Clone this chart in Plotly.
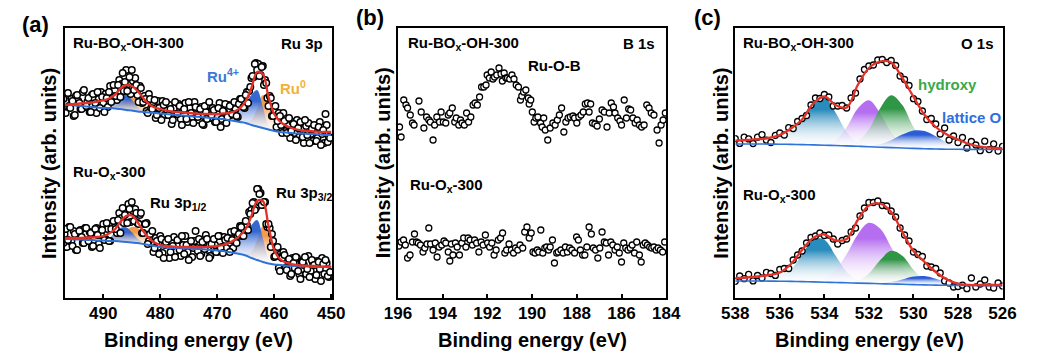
import numpy as np
import plotly.graph_objects as go

W, H = 1037, 354
FONT = "Liberation Sans, Arial, sans-serif"

# ---------------- panel (a): Ru 3p ----------------
E_a_fit = np.arange(497, 449, -1)                       # 497 ... 450 eV
E_a_pts = np.round(np.arange(497.0, 450.0, -0.4), 1)    # 497.0 ... 450.2 eV
E_a_pts2 = np.round(np.arange(496.8, 450.2, -0.4), 1)   # 496.8 ... 450.4 eV (interleaved)

a1_pts = [199,185,205,190,197,183,203,195,189,208,
          192,200,186,204,195,206,190,201,186,200,
          206,196,213,202,213,201,225,216,207,221,
          228,208,213,196,210,196,199,185,199,189,
          198,183,190,178,193,196,183,189,178,196,
          184,192,173,189,179,196,185,175,191,181,
          189,174,192,179,196,183,188,176,190,171,
          187,194,181,192,184,196,182,194,199,191,
          203,195,211,222,234,228,222,231,213,215,
          192,200,182,192,177,182,165,177,165,180,
          167,174,158,170,176,161,178,163,155,169,
          173,157,171,153,168,184,156,160]
a1_pts2 = [186,203,192,199,182,202,197,189,206,191,
           196,186,203,200,185,199,206,195,204,191,
           212,200,208,198,218,214,207,228,214,204,
           217,220,203,212,195,202,187,204,190,196,
           180,197,186,197,183,188,193,174,190,184,
           194,179,188,195,176,190,181,196,183,178,
           191,173,186,193,180,190,176,187,195,179,
           186,175,193,183,192,189,181,199,196,190,
           206,207,220,221,235,234,223,232,218,200,
           202,182,188,171,185,173,185,167,173,160,
           176,165,178,161,169,155,172,175,164,157,
           170,160,176,164,155,173,161]
a1_base = [193,193,192.5,192,191.5,191,190.5,190,190,189.5,189,188,187.5,186.5,186,185.5,
           185,184.5,184,183.5,183,182.5,182,181.5,181,180.5,180,179.5,179,178,177,176,
           175,173,171.5,170,168.5,167,166,165.5,165,164.5,164.5,164,164,163.5,163,163]
a1_fit = [193,193.5,194,194.5,195,195.5,196.5,197.5,199.5,203,209.5,213,212,207,200,194,
          190.5,189,187.5,186.5,186,185.5,185,184.5,184,184,184,184,184.5,185,186.5,190,
          197,210,226,224,201,184,176.5,172.5,170,168.5,167.5,167,166.5,166,166,166]
a1_ru4 = [0,0,0,0,0,0,0,0.9,3.7,9.3,15.2,15.9,10.7,4.6,1.3,0.2,
          0,0,0,0,0,0,0,0,0,1,2,3.5,4.5,6,9,13,
          20,30,36.5,21,4,0.5,0,0,0,0,0,0,0,0,0,0]
a1_ru0 = [0,0,0,0,0,0,0,0,0.7,2.2,5.3,9.6,12.7,12.3,8.8,4.6,
          1.8,0.5,0.1,0,0,0,0,0,0,0,0,0,0,0,0,0,
          1,5,18,33,28,16,10,6.5,4.5,3,2,1.5,1,0.5,0.3,0]

a2_pts = [55,69,58,71,52,64,48,67,61,55,
          70,57,65,52,69,63,50,68,58,75,
          57,69,77,69,78,65,90,83,75,89,
          96,77,85,74,85,65,74,54,64,67,
          50,57,44,59,40,56,59,46,52,41,
          58,48,62,44,53,38,57,50,67,47,
          42,56,49,59,40,54,59,46,62,50,
          45,58,60,46,58,67,55,64,71,62,
          77,68,84,95,88,109,104,93,96,74,
          74,51,57,42,51,27,40,43,28,39,
          24,35,41,27,19,36,41,29,21,38,
          33,23,36,17,34,38,22,26]
a2_pts2 = [64,51,71,57,67,48,62,68,55,70,
           58,66,51,64,70,54,63,74,59,69,
           57,74,71,65,85,80,75,89,94,76,
           87,89,75,83,65,74,75,57,62,46,
           60,51,62,45,53,58,40,55,61,47,
           58,42,53,62,46,54,41,57,50,59,
           44,55,63,48,42,57,53,46,62,51,
           61,50,58,66,50,65,62,72,62,73,
           73,86,88,96,90,109,105,93,96,71,
           70,64,41,49,30,41,46,30,37,22,
           40,30,40,24,36,33,24,42,27,35,
           19,37,29,40,24,35,21]
a2_base = [59,59,58.5,58.5,58,58,57.5,57.5,57,57,56.5,56,55.5,55,54,53,
           52,51,50.5,50,50,49.5,49.5,49,49,48.5,48,47.5,47,46,45,44,
           42.5,40,38,36,34.5,33.5,33,32.5,32,32,31.5,31.5,31,31,31,31]
a2_fit = [60,60,60,60,60.5,60.5,61,62,64.5,68.5,76,82,82.5,76,67,60,
          55.5,53,52,51.5,51,51,51,51,51,51,51.5,52,53,55,58,62.5,
          69,82,97,97,72,48,39,35.5,34,33,32.5,32,32,31.5,31.5,31.5]
a2_ru4 = [0,0,0,0,0,0,0,0.7,3.0,7.9,13.5,14.7,10.3,4.6,1.3,0.2,
          0,0,0,0,0,0,0,0,0,1,2,3,4.5,6.5,10,15,
          22,33,40,24,5,0.5,0,0,0,0,0,0,0,0,0,0]
a2_ru0 = [0,0,0,0,0,0,0,0,0.8,2.7,6.6,11.8,15.6,15.1,10.8,5.6,
          2.2,0.6,0.1,0,0,0,0,0,0,0,0,0,0,0,0,0,
          1.5,6,20,36,30,14,6,3,2,1.2,0.8,0.5,0.3,0,0,0]

# ---------------- panel (b): B 1s ----------------
E_b1 = [195.93,195.86,195.74,195.64,195.57,195.45,195.35,195.28,195.06,194.96,
        194.84,194.72,194.62,194.55,194.43,194.36,194.26,194.14,194.07,193.97,
        193.86,193.75,193.68,193.57,193.46,193.39,193.28,193.20,193.13,193.03,
        192.93,192.84,192.74,192.64,192.55,192.45,192.35,192.26,192.16,192.06,
        192.01,191.91,191.83,191.75,191.68,191.58,191.48,191.39,191.33,191.25,
        191.17,191.10,191.00,190.90,190.81,190.71,190.61,190.52,190.46,190.38,
        190.28,190.17,190.13,190.06,189.99,189.91,189.83,189.74,189.62,189.55,
        189.48,189.41,189.30,189.19,189.07,188.97,188.87,188.78,188.68,188.58,
        188.49,188.39,188.29,188.17,188.10,188.00,187.91,187.81,187.71,187.62,
        187.52,187.45,187.38,187.30,187.19,187.09,186.99,186.87,186.77,186.65,
        186.55,186.46,186.36,186.29,186.17,186.07,186.00,185.88,185.78,185.68,
        185.59,185.49,185.39,185.30,185.20,185.10,184.99,184.87,184.77,184.67,
        184.55,184.41,184.32,184.23,184.14,184.04]
b1_pts = [171,161,198,193,190,183,175,173,197,186,
          170,181,178,176,158,173,181,176,186,176,
          175,183,185,190,176,180,173,178,175,173,
          185,176,181,193,195,193,201,211,211,213,
          223,220,226,219,221,223,230,224,217,225,
          220,220,219,223,219,213,211,198,202,206,
          208,200,194,198,186,176,180,181,175,171,
          180,168,158,170,175,173,178,183,190,166,
          176,180,181,182,180,175,181,183,186,194,
          195,186,194,175,174,172,179,188,186,171,
          185,195,191,185,180,177,173,198,180,189,
          188,180,175,178,173,171,173,193,190,185,
          183,168,155,173,178,185]
E_b2 = [195.96,195.86,195.75,195.67,195.57,195.46,195.35,195.26,195.17,195.09,
        194.99,194.88,194.80,194.70,194.62,194.54,194.43,194.33,194.25,194.16,
        194.04,193.94,193.86,193.75,193.68,193.61,193.54,193.43,193.35,193.25,
        193.14,193.06,192.96,192.86,192.77,192.67,192.57,192.48,192.38,192.28,
        192.19,192.09,191.99,191.90,191.80,191.70,191.61,191.51,191.41,191.32,
        191.22,191.14,191.03,190.93,190.83,190.74,190.64,190.54,190.42,190.33,
        190.23,190.13,190.04,189.96,189.87,189.77,189.70,189.61,189.52,189.43,
        189.35,189.26,189.19,189.09,189.00,188.90,188.83,188.71,188.61,188.51,
        188.42,188.32,188.22,188.10,188.01,187.93,187.84,187.74,187.64,187.55,
        187.45,187.35,187.26,187.16,187.06,186.97,186.87,186.77,186.68,186.58,
        186.48,186.39,186.29,186.19,186.10,186.00,185.90,185.81,185.71,185.61,
        185.52,185.42,185.32,185.20,185.12,185.03,184.94,184.84,184.74,184.65,
        184.55,184.45,184.36,184.26,184.16,184.07]
b2_pts = [52,56,58,53,40,43,56,64,56,55,
          53,46,50,54,70,54,48,55,41,51,
          53,57,55,46,37,54,43,55,51,43,
          55,60,51,60,58,53,58,55,46,56,
          53,63,55,51,55,43,48,58,60,65,
          45,48,54,48,45,50,48,53,50,66,
          71,60,65,46,45,48,46,68,45,50,
          51,48,51,58,35,45,46,48,45,51,
          46,50,48,45,61,58,48,43,43,51,
          71,64,50,48,40,50,66,56,55,43,
          56,53,48,51,45,36,55,50,48,50,
          53,45,56,43,36,53,55,53,51,50,
          51,48,50,48,46,56]

# ---------------- panel (c): O 1s ----------------
E_c_fit = np.arange(538, 525.75, -0.5)                 # 538 ... 526 eV
E_c_pts = np.round(np.arange(538.0, 525.9, -0.2), 1)   # 538.0 ... 526.0 eV

c1_pts = [159.3,154.6,160.9,159.1,154.5,160.8,163.3,157.8,155.5,162.7,
          165,163,170.3,169.5,176.5,179.5,182.5,193,200,199.5,
          203.5,201,192,192,192.5,190,200,205,219,228.5,
          232,233,238,238.5,235.5,237.5,232.5,222,218.5,212.5,
          199.3,196.5,187,178.5,179.5,174,164,170,158,162,
          155.5,160.5,150,156.5,153,147.3,156.8,148.4,154.1,146.9,151.7]
c1_base = [154,154,154,153.9,153.8,153.6,153.4,153.1,152.8,152.5,152.1,151.7,151.3,
           150.8,150.4,150,149.6,149.3,149,148.8,148.7,148.6,148.5,148.5,148.5]
c1_fit = [157.3,158,158.8,160,163,169.5,178.5,194.5,201.5,193,190.5,213,230,
          236.5,235.5,220,201.3,183,171,163.5,158.5,154,151.3,150.3,149.7]
c1_teal = [2,2.5,3,4.5,8,13,25,44.3,48.4,33,14,3.6,0.6,0.1,0,0,0,0,0,0,0,0,0,0,0]
c1_purple = [0,0,0,0,0,0,0.1,0.4,1.5,5.4,18.5,37.8,46.4,34.1,15.1,4,0.6,0.1,0,0,0,0,0,0,0]
c1_hydroxy = [0,0,0,0,0,0,0,0,0,0.1,0.8,4.8,17.4,38.8,52.4,42.9,21.3,6.4,1.2,0.1,0,0,0,0,0]
c1_lattice = [0,0,0,0,0,0,0,0,0,0,0,0.2,0.9,3,7.4,13.4,18,17.6,12.7,6.7,2.6,0.7,0.1,0,0]

c2_pts = [16.7,22,19.3,23.7,17.1,22.5,20,25.6,24.5,22.6,
          28.5,29.5,29.5,38,43,47,55,60.5,62,65,
          62.5,63,59,54,57.5,59,66,70,82,90,
          95.5,95.5,97,92.5,92,87,81,70,63,57,
          46,43.5,41.5,32,31,29.5,25,17,15,11,
          11.5,12.8,9.3,20,11,14,18,11,10,15,12]
c2_base = [17,17,17,16.9,16.8,16.6,16.4,16.1,15.8,15.5,15.2,14.9,14.6,
           14.3,14,13.7,13.4,13.1,12.9,12.7,12.6,12.5,12.4,12.3,12.3]
c2_fit = [19.7,20.5,21.5,23,25.5,34,48,60,63.5,57.5,59,78,92.5,
          94.5,86,66,47,36,26,18.5,14.5,13,13,13,13]
c2_teal = [1.5,2,2.5,4,6.5,12,27,42.5,42.5,27,10.9,2.8,0.4,0,0,0,0,0,0,0,0,0,0,0,0]
c2_purple = [0,0,0,0,0,0,0.2,0.9,3.9,12.3,28.6,48.7,60.6,55.2,36.8,17.9,6.4,1.7,0.3,0,0,0,0,0,0]
c2_hydroxy = [0,0,0,0,0,0,0,0,0,0,0.4,2.6,10,23.4,33.2,28.5,14.9,4.7,0.9,0.1,0,0,0,0,0]
c2_lattice = [0,0,0,0,0,0,0,0,0,0,0,0,0,0.5,2,4.9,8.1,8.8,6.3,3,0.9,0.2,0,0,0]

# ---------------- styles ----------------
RED = "#e53228"
BASE_BLUE = "#2f72d8"
RU4 = "#3768d0"
RU0 = "#f39c4a"
TEAL = "#2a8cbd"
PURPLE = "#b56ef0"
GREEN = "#2f9646"
LATT = "#2b5ed6"

fig = go.Figure()


def add_comp(xa, ya, E, base, comp, color, sl=slice(None)):
    e = np.asarray(E, dtype=float)[sl]
    b = np.asarray(base, dtype=float)[sl]
    c = b + np.asarray(comp, dtype=float)[sl]
    fig.add_trace(go.Scatter(x=e, y=b, mode="lines", line=dict(width=0, shape="spline"),
                             hoverinfo="skip", showlegend=False, xaxis=xa, yaxis=ya))
    fig.add_trace(go.Scatter(x=e, y=c, mode="lines", line=dict(width=0, shape="spline"),
                             fill="tonexty",
                             fillgradient=dict(type="vertical",
                                               colorscale=[[0, "rgba(255,255,255,0)"],
                                                           [0.75, color], [1, color]]),
                             hoverinfo="skip", showlegend=False, xaxis=xa, yaxis=ya))


def add_pts(xa, ya, E, y, size=6, lw=1.3):
    fig.add_trace(go.Scatter(x=E, y=y, mode="markers",
                             marker=dict(symbol="circle", size=size, color="white",
                                         line=dict(color="black", width=lw)),
                             showlegend=False, xaxis=xa, yaxis=ya))


def add_line(xa, ya, E, y, color, w):
    fig.add_trace(go.Scatter(x=E, y=y, mode="lines", line=dict(color=color, width=w, shape="spline"),
                             showlegend=False, xaxis=xa, yaxis=ya))


LEFT, RIGHT = slice(0, 26), slice(24, 48)
for base, ru4, ru0, pts, pts2, fit in [(a1_base, a1_ru4, a1_ru0, a1_pts, a1_pts2, a1_fit),
                                        (a2_base, a2_ru4, a2_ru0, a2_pts, a2_pts2, a2_fit)]:
    for sl in (LEFT, RIGHT):
        add_comp("x", "y", E_a_fit, base, ru0, RU0, sl)
        add_comp("x", "y", E_a_fit, base, ru4, RU4, sl)
    add_pts("x", "y", E_a_pts2, pts2, 6.5, 1.5)
    add_pts("x", "y", E_a_pts, pts, 6.5, 1.5)
    add_line("x", "y", E_a_fit, base, BASE_BLUE, 2)
    add_line("x", "y", E_a_fit, fit, RED, 2.3)

add_pts("x2", "y2", E_b1, b1_pts)
add_pts("x2", "y2", E_b2, b2_pts)

for base, te, pu, gr, la, pts, fit in [
        (c1_base, c1_teal, c1_purple, c1_hydroxy, c1_lattice, c1_pts, c1_fit),
        (c2_base, c2_teal, c2_purple, c2_hydroxy, c2_lattice, c2_pts, c2_fit)]:
    add_comp("x3", "y3", E_c_fit, base, te, TEAL)
    add_comp("x3", "y3", E_c_fit, base, pu, PURPLE)
    add_comp("x3", "y3", E_c_fit, base, gr, GREEN)
    add_comp("x3", "y3", E_c_fit, base, la, LATT)
    add_pts("x3", "y3", E_c_pts, pts)
    add_line("x3", "y3", E_c_fit, base, BASE_BLUE, 1.6)
    add_line("x3", "y3", E_c_fit, fit, RED, 2.3)

# ---------------- axes ----------------
ydom = [1 - 298 / H, 1 - 28 / H]
tickfont = dict(family=FONT, size=17, color="black", weight="bold")


def xax(dom, rng, tv, anchor):
    return dict(domain=dom, range=rng, anchor=anchor, tickvals=tv, ticks="inside", ticklen=4,
                tickwidth=1.5, tickcolor="black", showline=True, linewidth=2, linecolor="black",
                mirror=True, showgrid=False, zeroline=False, tickfont=tickfont,
                ticklabelstandoff=-1)


def yax(anchor):
    return dict(domain=ydom, range=[0, 270], anchor=anchor, showticklabels=False, ticks="",
                showline=True, linewidth=2, linecolor="black", mirror=True,
                showgrid=False, zeroline=False)


fig.update_layout(
    width=W, height=H, margin=dict(l=0, r=0, t=0, b=0),
    paper_bgcolor="white", plot_bgcolor="white", showlegend=False,
    xaxis=xax([52 / W, 327.5 / W], [496.8, 449.8], [490, 480, 470, 460, 450], "y"),
    xaxis2=xax([395 / W, 671 / W], [196, 184], [196, 194, 192, 190, 188, 186, 184], "y2"),
    xaxis3=xax([742 / W, 1017 / W], [538, 526], [538, 536, 534, 532, 530, 528, 526], "y3"),
    yaxis=yax("x"), yaxis2=yax("x2"), yaxis3=yax("x3"),
)


def ann(text, x, y, size=15, color="black", xanchor="left", angle=0):
    fig.add_annotation(text=text, x=x / W, y=1 - y / H, xref="paper", yref="paper",
                       showarrow=False, xanchor=xanchor, yanchor="middle", textangle=angle,
                       font=dict(family=FONT, size=size, color=color, weight="bold"))


# panel letters
ann("(a)", 22, 25, 22, xanchor="center")
ann("(b)", 366, 18, 22, xanchor="center")
ann("(c)", 713, 18, 22, xanchor="center")

# axis titles
for cx in (190, 533, 880):
    ann("Binding energy (eV)", cx, 340, 20, xanchor="center")
for cx in (36, 380, 727):
    ann("Intensity (arb. units)", cx, 163, 20, xanchor="center", angle=-90)

# panel (a)
ann("Ru-BO<sub>x</sub>-OH-300", 59, 43)
ann("Ru 3p", 320, 43, xanchor="right")
ann("Ru<sup>4+</sup>", 197, 75, color="#3a78d8")
ann("Ru<sup>0</sup>", 272, 87, color="#f2b134")
ann("Ru-O<sub>x</sub>-300", 59, 172)
ann("Ru 3p<sub>1/2</sub>", 138, 203)
ann("Ru 3p<sub>3/2</sub>", 267, 193)

# panel (b)
ann("Ru-BO<sub>x</sub>-OH-300", 403, 43)
ann("B 1s", 662, 43, xanchor="right")
ann("Ru-O-B", 527, 65)
ann("Ru-O<sub>x</sub>-300", 405, 185)

# panel (c)
ann("Ru-BO<sub>x</sub>-OH-300", 748, 43)
ann("O 1s", 1010, 43, xanchor="right")
ann("hydroxy", 928, 85, color="#3aa84a")
ann("lattice O", 953, 117, color="#2f6ee0")
ann("Ru-O<sub>x</sub>-300", 748, 195)

fig.write_html("out.html")
